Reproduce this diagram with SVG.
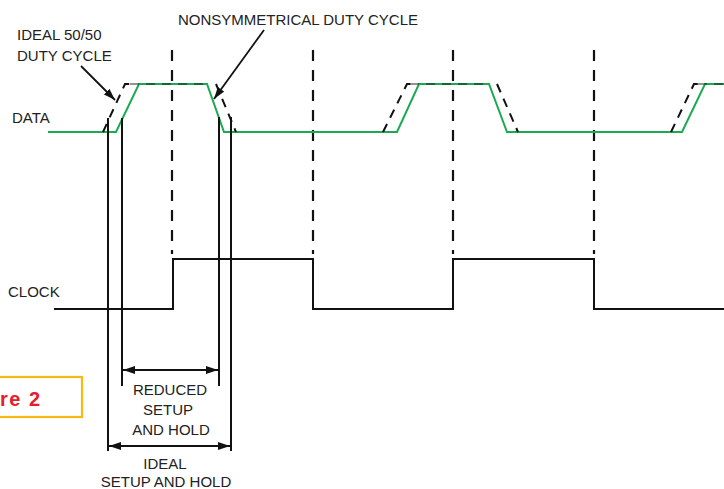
<svg xmlns="http://www.w3.org/2000/svg" width="724" height="489" viewBox="0 0 724 489">
  <style>
    .lbl { font-family: "Liberation Sans", Arial, sans-serif; font-size: 15px; fill: #222; }
    .mid { text-anchor: middle; }
    .data { fill: none; stroke: #1aab52; stroke-width: 2; stroke-linejoin: miter; }
    .ideal { fill: none; stroke: #111; stroke-width: 2; stroke-dasharray: 9 7; }
    .idealTop { fill: none; stroke: #111; stroke-width: 2; stroke-dasharray: 9 7; stroke-opacity: 0.45; }
    .edge { fill: none; stroke: #111; stroke-width: 2.2; stroke-dasharray: 11 9; }
    .clk { fill: none; stroke: #111; stroke-width: 2; }
    .wire { fill: none; stroke: #111; stroke-width: 2; }
    .dim { fill: none; stroke: #111; stroke-width: 1.8; }
  </style>
  <defs>
    <marker id="head" viewBox="0 0 12 8" refX="12" refY="4" markerWidth="12" markerHeight="8" markerUnits="userSpaceOnUse" orient="auto-start-reverse">
      <path d="M0,0 L12,4 L0,8 Z" fill="#111"/>
    </marker>
  </defs>
  <rect width="724" height="489" fill="#fff"/>

  <!-- figure tag -->
  <g id="figure-tag">
    <rect x="-20" y="377" width="102" height="40" fill="#fff" stroke="#f7b914" stroke-width="2.2"/>
    <text x="0" y="406" font-family="'Liberation Sans', Arial, sans-serif" font-size="20" font-weight="bold" letter-spacing="1.5" fill="#e3202b">re 2</text>
  </g>

  <!-- signal names -->
  <g id="data-label"><text class="lbl" x="12" y="123">DATA</text></g>
  <g id="clock-label"><text class="lbl" x="8" y="297">CLOCK</text></g>

  <!-- clock edges -->
  <g id="clock-edges">
    <line class="edge" x1="172" y1="50" x2="172" y2="254"/>
    <line class="edge" x1="313" y1="50" x2="313" y2="254"/>
    <line class="edge" x1="453" y1="50" x2="453" y2="254"/>
    <line class="edge" x1="594" y1="50" x2="594" y2="254"/>
  </g>

  <!-- data waveform -->
  <g id="data-signal">
    <path class="data" d="M48,132 H116 L139,84 H207 L224,132 H397 L419,84 H489 L507,132 H682 L705,84 H724"/>
    <path class="idealTop" d="M130,84 H208 M410,84 H490 M698,84 H724"/>
    <path class="ideal" d="M103,132 L125,84 H130 M216,84 L236,132 M383,132 L407,84 H411 M497,84 L518,132 M671,132 L694,84 H699"/>
  </g>

  <!-- clock waveform -->
  <g id="clock-signal">
    <path class="clk" d="M54,309 H173 V259 H313 V309 H453 V259 H594 V309 H724"/>
  </g>

  <!-- timing window verticals -->
  <g id="window-lines">
    <line class="wire" x1="108" y1="118" x2="108" y2="451"/>
    <line class="wire" x1="122" y1="118" x2="122" y2="386"/>
    <line class="wire" x1="219" y1="117" x2="219" y2="386"/>
    <line class="wire" x1="231" y1="117" x2="231" y2="451"/>
  </g>

  <!-- connectors -->
  <g id="connectors">
    <line class="dim" x1="123" y1="370" x2="218" y2="370" marker-start="url(#head)" marker-end="url(#head)"/>
    <line class="dim" x1="109" y1="446" x2="230" y2="446" marker-start="url(#head)" marker-end="url(#head)"/>
    <line class="dim" x1="81" y1="66" x2="115" y2="100" marker-end="url(#head)"/>
    <line class="dim" x1="264" y1="30" x2="214" y2="99" marker-end="url(#head)"/>
  </g>

  <!-- annotations -->
  <g id="ideal-duty-label">
    <text class="lbl" x="17" y="40">IDEAL 50/50</text>
    <text class="lbl" x="17" y="61">DUTY CYCLE</text>
  </g>
  <g id="nonsym-label">
    <text class="lbl" x="178" y="25">NONSYMMETRICAL DUTY CYCLE</text>
  </g>
  <g id="reduced-label">
    <text class="lbl mid" x="170" y="395">REDUCED</text>
    <text class="lbl mid" x="168" y="415">SETUP</text>
    <text class="lbl mid" x="171" y="435">AND HOLD</text>
  </g>
  <g id="ideal-window-label">
    <text class="lbl mid" x="165" y="469">IDEAL</text>
    <text class="lbl mid" x="166" y="487">SETUP AND HOLD</text>
  </g>
</svg>
